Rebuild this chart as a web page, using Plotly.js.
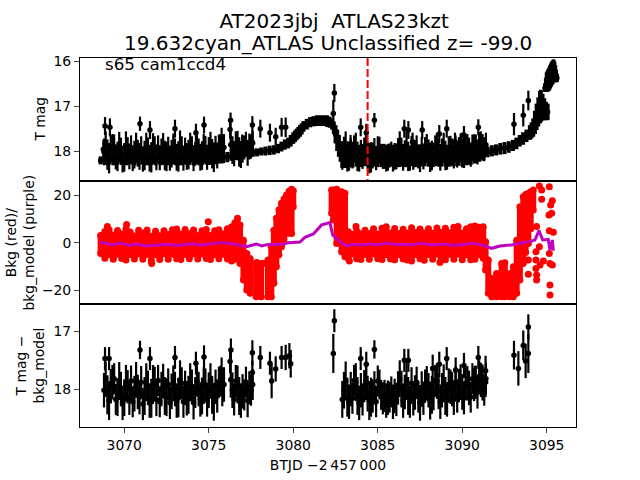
<!DOCTYPE html>
<html><head><meta charset="utf-8">
<script src="https://cdn.plot.ly/plotly-3.0.0.min.js"></script>
<style>html,body{margin:0;padding:0;background:#fff}</style></head>
<body><div id="chart" style="width:640px;height:480px"></div>
<script>
// dense spikes (shared times)
const spikeX=[3068.8,3069,3069.2,3069.4,3069.6,3069.8,3070,3070.2,3070.4,3070.6,3070.8,3071,3071.2,3071.4,3071.6,3071.8,3072,3072.2,3072.4,3072.6,3072.8,3073,3073.2,3073.4,3073.6,3073.8,3074,3074.2,3074.4,3074.6,3074.8,3075,3075.2,3075.4,3075.6,3075.8,3076.4,3076.6,3076.8,3077,3077.2,3077.4,3077.6,
3083,3083.2,3083.4,3083.6,3083.8,3084,3084.2,3084.4,3084.6,3084.8,3085,3085.2,3085.4,3085.6,3085.8,3086,3086.2,3086.4,3086.6,3086.8,3087,3087.2,3087.4,3087.6,3087.8,3088,3088.2,3088.4,3088.6,3088.8,3089,3089.2,3089.4,3089.6,3089.8,3090,3090.2,3090.4,3090.6,3090.8,3091,3091.2,3091.4];
const spikeX2=[3068.9,3069.1,3069.3,3069.5,3069.7,3069.9,3070.1,3070.3,3070.5,3070.7,3070.9,3071.1,3071.3,3071.5,3071.7,3071.9,3072.1,3072.3,3072.5,3072.7,3072.9,3073.1,3073.3,3073.5,3073.7,3073.9,3074.1,3074.3,3074.5,3074.7,3074.9,3075.1,3075.3,3075.5,3075.7,3075.9,3076.3,3076.5,3076.7,3076.9,3077.1,3077.3,3077.5,
3082.9,3083.1,3083.3,3083.5,3083.7,3083.9,3084.1,3084.3,3084.5,3084.7,3084.9,3085.1,3085.3,3085.5,3085.7,3085.9,3086.1,3086.3,3086.5,3086.7,3086.9,3087.1,3087.3,3087.5,3087.7,3087.9,3088.1,3088.3,3088.5,3088.7,3088.9,3089.1,3089.3,3089.5,3089.7,3089.9,3090.1,3090.3,3090.5,3090.7,3090.9,3091.1,3091.3];
const spikeErr=[.3,.34,.3,.27,.33,.3,.32,.29,.27,.31,.3,.28,.33,.3,.34,.29,.27,.3,.33,.28,.31,.3,.34,.28,.3,.33,.29,.27,.3,.32,.28,.31,.33,.29,.27,.3,.31,.28,.33,.3,.27,.29,.27,
.32,.34,.3,.27,.33,.3,.28,.31,.34,.29,.27,.26,.28,.3,.27,.3,.29,.32,.3,.33,.28,.3,.27,.31,.29,.3,.33,.27,.31,.3,.33,.28,.3,.27,.29,.31,.28,.3,.27,.29,.28,.3,.27];
const bottomY=[18.02,18.1,17.95,17.82,18.14,18.0,18.15,17.96,17.86,18.08,18.05,17.88,18.12,17.98,18.16,17.9,17.85,18.0,18.12,17.92,18.04,18.0,18.15,17.9,17.98,18.1,17.95,18.06,18.0,18.12,17.92,18.02,18.1,17.95,17.88,18.0,18.02,17.86,18.12,18.04,17.88,17.98,17.92,
18.02,18.14,18.0,17.85,18.12,18.02,17.95,18.08,18.14,17.98,17.86,18.1,18.12,18.15,18.05,18.12,17.98,18.0,18.05,18.12,17.9,18.06,18.14,18.0,17.95,18.02,18.1,17.85,18.04,18.02,18.12,17.92,18.0,17.88,17.94,18.05,17.9,17.98,17.82,17.88,17.78,17.9,17.82];
const bottomY2=[17.82,18.2,17.88,18.18,17.86,18.24,17.9,18.16,18.22,17.84,18.14,18.26,17.88,18.2,17.92,18.18,18.22,17.86,18.14,18.24,17.9,18.2,17.84,18.22,18.16,17.88,18.24,17.86,18.18,17.94,18.2,17.86,18.22,18.12,17.86,17.92,17.84,18.18,17.92,18.2,18.1,18.2,18.02,
18.18,17.86,18.22,18.16,17.88,18.24,18.18,17.88,18.2,18.12,18.22,17.92,18.16,18.2,18.14,18.22,18.18,17.82,18.2,17.86,18.22,18.16,17.88,18.24,18.16,17.9,18.2,18.1,17.86,18.22,17.9,18.2,17.96,18.18,18.12,17.88,18.16,17.9,18.14,17.92,18.06,17.84,18.02];
const topSpikeY=[18.02,18.08,17.95,17.9,18.12,18.0,18.14,17.98,17.92,18.08,18.05,17.95,18.1,18.0,18.14,17.96,17.92,18.02,18.1,17.96,18.06,18.02,18.12,17.95,18.0,18.08,17.96,18.06,18.02,18.1,17.94,18.0,18.06,17.95,17.9,17.98,17.98,17.84,18.02,17.96,17.84,17.9,17.82,
18.0,18.12,18.02,17.92,18.12,18.05,17.98,18.1,18.14,18.0,17.94,18.1,18.12,18.14,18.06,18.12,18.0,18.02,18.06,18.12,17.94,18.06,18.12,18.0,17.98,18.04,18.1,17.92,18.04,18.02,18.1,17.95,18.02,17.92,17.98,18.06,17.94,18.0,17.9,17.92,17.86,17.92,17.86];
const topSpikeY2=[17.86,18.16,17.92,18.14,17.9,18.18,17.88,18.12,18.18,17.9,18.12,18.18,17.92,18.16,17.94,18.14,18.16,17.9,18.12,18.16,17.92,18.14,17.88,18.16,18.12,17.92,18.16,17.9,18.14,17.94,18.14,17.88,18.14,18.1,17.9,17.92,17.86,18.06,17.88,18.08,17.92,18.04,17.9,
18.1,17.9,18.14,18.12,17.92,18.16,18.12,17.9,18.16,18.1,18.16,17.94,18.12,18.16,18.1,18.16,18.12,17.88,18.14,17.9,18.16,18.12,17.92,18.16,18.12,17.92,18.14,18.08,17.9,18.14,17.92,18.14,17.96,18.12,18.08,17.92,18.1,17.92,18.08,17.92,18.02,17.86,17.96];
// labelled markers: top panel
const topPtX=[3068.76,3068.86,3069.15,3070.93,3071.52,3073,3074.24,3074.72,3075.76,3076.29,3076.26,3076.98,3077.58,3077.58,3078.05,3078.62,3078.96,3079.31,3079.55,3082.37,3082.43,3083.39,3083.99,3084.32,3084.8,3086.57,3086.81,3087.06,3087.63,3088.64,3089.08,3089.57,3089.96,3090.1,3090.75,3090.95,3093.06,3093.61,3093.91];
const topPtY=[17.96,17.44,17.47,17.39,17.53,17.5,17.59,17.42,17.68,17.31,17.52,17.83,17.42,17.81,17.5,17.59,17.68,17.47,17.47,17.16,16.7,17.84,17.47,17.59,17.31,17.5,17.53,17.79,17.53,17.62,17.5,17.79,17.79,17.64,17.83,17.47,17.4,17.2,16.87];
const topPtErr=[.2,.2,.2,.16,.2,.2,.2,.19,.2,.17,.2,.2,.2,.2,.2,.2,.2,.21,.22,.3,.2,.2,.2,.2,.16,.2,.2,.2,.2,.2,.2,.2,.2,.2,.2,.18,.25,.25,.22];
// smooth band of the light curve
const bandX=[3068.6,3068.85,3069.1,3069.35,3069.6,3069.85,3070.1,3070.35,3070.6,3070.85,3071.1,3071.35,3071.6,3071.85,3072.1,3072.35,3072.6,3072.85,3073.1,3073.35,3073.6,3073.85,3074.1,3074.35,3074.6,3074.85,3075.1,3075.35,3075.6,3075.85,3076.1,3076.35,3076.6,3076.85,3077.1,3077.35,3077.6,3077.85,3078.1,3078.35,3078.6,3078.85,3079.1,3079.3,3079.5,3079.7,3079.85,3080,3080.1,3080.2,3080.3,3080.4,3080.5,3080.6,3080.8,3081,3081.2,3081.4,3081.6,3081.8,3082,3082.15,3082.3,3082.4,3082.5,3082.6,3082.7,3082.8,3082.9,3083,3083.1,3083.3,3083.5,3083.75,3084,3084.25,3084.5,3084.75,3085,3085.25,3085.5,3085.75,3086,3086.25,3086.5,3086.75,3087,3087.25,3087.5,3087.75,3088,3088.25,3088.5,3088.75,3089,3089.25,3089.5,3089.75,3090,3090.25,3090.5,3090.75,3091,3091.25,3091.5,3091.75,3092,3092.25,3092.5,3092.75,3093,3093.2,3093.4,3093.6,3093.8,3094,3094.1,3094.2,3094.3,3094.4,3094.5,3094.6,3094.65,3094.75,3094.85,3094.95,3095.05,3094.9,3094.95,3095,3095.05,3095.1,3095.15,3095.2,3095.25,3095.3,3095.35,3095.4,3095.45,3095.5,3095.55,3095.6];
const bandTop=[18.12,18.08,18.1,18.08,18.1,18.09,18.1,18.08,18.1,18.08,18.09,18.1,18.08,18.1,18.09,18.1,18.08,18.1,18.08,18.09,18.1,18.08,18.09,18.07,18.08,18.06,18.07,18.05,18.05,18.03,18.02,18.02,18.0,18,17.98,17.96,17.94,17.94,17.92,17.9,17.88,17.87,17.84,17.79,17.74,17.7,17.64,17.58,17.54,17.5,17.46,17.42,17.38,17.33,17.28,17.24,17.22,17.2,17.2,17.2,17.2,17.23,17.27,17.34,17.42,17.52,17.64,17.78,17.9,17.96,18,18.04,18.06,18.05,18.06,18.05,18.06,18.07,18.06,18.07,18.06,18.07,18.06,18.07,18.08,18.06,18.07,18.06,18.08,18.06,18.08,18.07,18.06,18.08,18.06,18.08,18.07,18.06,18.05,18.06,18.04,18.03,18,17.97,17.9,17.87,17.85,17.82,17.8,17.78,17.75,17.7,17.64,17.58,17.52,17.42,17.36,17.27,17.1,16.94,16.8,16.66,16.63,16.72,16.82,16.9,16.94,16.5,16.36,16.24,16.2,16.16,16.13,16.08,16.04,16,15.98,15.95,16,16.08,16.18,16.27];
const bandBot=[18.3,18.31,18.3,18.32,18.3,18.31,18.32,18.3,18.32,18.31,18.3,18.32,18.31,18.32,18.3,18.31,18.32,18.3,18.31,18.32,18.3,18.31,18.32,18.3,18.31,18.3,18.31,18.3,18.28,18.27,18.25,18.22,18.2,18.16,18.14,18.13,18.13,18.12,18.1,18.1,18.09,18.08,18.05,18.01,17.97,17.94,17.9,17.84,17.8,17.76,17.72,17.68,17.63,17.57,17.52,17.47,17.45,17.44,17.44,17.44,17.46,17.48,17.52,17.62,17.83,18,18.13,18.24,18.38,18.38,18.38,18.36,18.37,18.35,18.36,18.34,18.36,18.35,18.36,18.34,18.36,18.35,18.34,18.36,18.35,18.36,18.34,18.36,18.35,18.34,18.35,18.36,18.34,18.35,18.34,18.35,18.34,18.33,18.34,18.32,18.31,18.28,18.24,18.2,18.14,18.12,18.1,18.08,18.07,18.04,18.0,17.96,17.9,17.86,17.8,17.75,17.72,17.68,17.62,17.53,17.45,17.38,17.35,17.32,17.31,17.31,17.31,16.68,16.68,16.68,16.67,16.66,16.64,16.6,16.56,16.53,16.5,16.46,16.46,16.46,16.46,16.46];
// background flux (red): envelope of the dense cloud
const redX=[3068.6,3068.85,3069.1,3069.35,3069.6,3069.85,3070.1,3070.35,3070.6,3070.85,3071.1,3071.35,3071.6,3071.85,3072.1,3072.35,3072.6,3072.85,3073.1,3073.35,3073.6,3073.85,3074.1,3074.35,3074.6,3074.85,3075.1,3075.35,3075.6,3075.85,3076.1,3076.35,3076.55,3076.7,3076.85,3077.05,3077.25,3077.45,3077.8,3078.1,3078.5,3078.7,3078.85,3079,3079.15,3079.3,3079.45,3079.6,3079.75,3079.9,3080,
3082.27,3082.37,3082.57,3082.86,3083.06,3083.26,3083.5,3083.75,3084,3084.25,3084.5,3084.75,3085,3085.25,3085.5,3085.75,3086,3086.25,3086.5,3086.75,3087,3087.25,3087.5,3087.75,3088,3088.25,3088.5,3088.75,3089,3089.25,3089.5,3089.75,3090,3090.25,3090.5,3090.75,3091,3091.24,3091.38,3091.54,3091.74,3092.03,3092.33,3092.52,3092.82,3093.02,3093.22,3093.41,3093.61,3093.75,3093.91,3094.05,3094.2];
const redHigh=[3.2,4.8,5.6,3.4,5.3,3.8,6,4.6,2.9,5.4,4.2,5.5,2.8,4.9,3,5.2,3.6,5.6,5.9,3.8,5.7,3.9,5.5,3.1,5.2,5.7,3.2,5.1,5.6,3.9,6,6.8,8.5,10.4,7.6,1.2,-4.4,-7.2,-8.6,-8.6,-7.2,-1.6,5.4,10.4,14,16.7,18.5,20.2,21.8,22.6,22,
22.3,22.3,22.6,21.6,20.9,4.7,3.6,5.2,3.9,5.4,4,6,3.8,6.2,6.8,4.2,6.1,4,5.8,4.1,6.4,4.4,5.9,4.2,6,4.1,6.3,4.5,6.2,4.3,6.6,6.9,4.2,6,6.8,7.2,6.6,6.8,.5,-7.2,-14.9,-12.8,-8.6,-8.3,-12.8,-10,1.2,15.3,19.5,20.4,20.9,21.6,22.3];
const redLow=[-4.4,-6.4,-5,-6.8,-4.9,-6.5,-7.2,-5,-6.7,-4.6,-6.9,-4.8,-7.4,-5,-7,-4.6,-6.9,-4.7,-6.6,-7,-4.8,-6.6,-4.6,-6.7,-4.6,-6.5,-7,-5,-6.6,-4.7,-6.7,-7.6,-6.9,-6.5,-8.6,-15.6,-19.8,-21.2,-22.6,-22.6,-22.6,-22.6,-17,-10,-5,-1.6,1.5,4,4.2,4,15.3,
12.5,9.7,-.2,-3.7,-5.8,-6.6,-4.6,-6.6,-7,-4.8,-6.9,-4.6,-6.6,-7,-5,-6.7,-7.1,-5,-6.7,-7.2,-7.6,-5,-6.6,-7.3,-4.8,-6.9,-4.7,-6.8,-7.1,-4.9,-6.8,-4.7,-7.1,-5,-7.1,-6.8,-5,-6.4,-11.4,-21.2,-22.6,-22.6,-22.6,-22.6,-22.6,-22.6,-21.2,-15.6,-8.6,-4,-.2,6,13.9];
const redDotX=[3069,3070.14,3074.97,3071.62,3077.44,3078.23,3077.85,3083.71,3083.32,3088.68,3093.91,3094.4,3094.4,3094.36,3094.6,3094.8,3095.19,3095.33,3095.19,3095.19,3095.15,3095.33,3095.23,3095.29,3095.13,3095.15,3095.39,3094.56,3094.7,3094.7,3094.4,3094.56,3095.15,3093.91,3094.36,3094.36];
const redDotY=[6.9,7.8,8.9,-8.6,-6.5,-8.6,-8.2,6.9,-7.6,-8.2,-13.2,-13.5,-15.6,-7.2,-9.3,-7.6,-8.6,-9.3,-17.7,-21.9,23.7,17.8,16,12.5,11.8,5.2,4.5,24,22.3,18.4,6.9,-1.6,-4.4,-7.2,-3.7,-10.7];
// background model (purple)
const modelX=[3068.56,3068.96,3069.35,3069.6,3069.85,3070.24,3070.73,3071.32,3071.92,3072.51,3073.1,3073.6,3074.09,3074.48,3075.05,3075.66,3076.26,3076.85,3077.24,3077.83,3078.13,3078.43,3079.41,3079.71,3080.4,3080.69,3081.19,3081.68,3082.07,3082.17,3082.33,3082.76,3083.16,3083.55,3084.05,3084.54,3085.02,3085.52,3086.02,3086.51,3087,3087.5,3088.29,3088.9,3089.47,3090.05,3090.65,3091.2,3091.74,3092.23,3092.92,3093.41,3094,3094.3,3094.54,3094.76,3095.09,3095.19,3095.33,3095.39];
const modelY=[.3,-.14,-.84,-.3,0,-1,-.4,-1.26,-1,-.56,-1.1,-.6,-.28,-1,-.5,.14,-.14,-1.1,-1.54,-.42,-1.26,-.7,-.56,.14,.42,2.4,3.8,7.6,8.6,8.6,3.4,.56,-1.26,-.56,-.9,-.4,-.7,0,-.6,-.56,-.9,-.14,-.84,-.4,-1.1,-.6,-.14,-.9,-2.25,-1.26,-.84,-.14,.56,1.26,5.2,1.26,1.54,-2.95,1.26,-3.2];
// background-subtracted: labelled markers
const subPtX=[3068.86,3069.1,3070.93,3071.52,3073,3074.24,3074.72,3075.76,3076.31,3076.26,3077.58,3077.58,3078.05,3078.62,3078.72,3078.96,3079.31,3079.55,3079.77,3079.85,3082.37,3082.43,3083.99,3084.32,3084.8,3086.57,3086.81,3088.25,3088.64,3089.08,3089.61,3090.1,3090.75,3090.95,3091.19,3091.38,3091.38,3093.06,3093.32,3093.61,3093.75,3093.91,3093.91];
const subPtY=[17.47,17.47,17.32,17.47,17.45,17.55,17.44,17.67,17.32,17.52,17.37,17.71,17.45,17.55,17.86,17.65,17.45,17.45,17.42,17.56,17.38,16.81,17.47,17.57,17.31,17.5,17.5,17.64,17.57,17.47,17.67,17.59,17.86,17.45,17.83,17.68,17.88,17.41,17.64,17.24,17.51,16.92,17.38];
const subPtErr=[.2,.2,.16,.2,.2,.2,.2,.22,.2,.2,.22,.2,.2,.2,.3,.22,.2,.22,.22,.24,.34,.2,.2,.22,.16,.2,.2,.24,.22,.2,.22,.22,.26,.2,.26,.26,.26,.25,.3,.26,.3,.22,.34];
const tessTime=[3084.4,3084.4];
const tessMag=[15.92,18.68];
const titleLines=["AT2023jbj  ATLAS23kzt","19.632cyan_ATLAS Unclassified z= -99.0"];
const sectorText="s65 cam1ccd4";
const xTicks=[3070,3075,3080,3085,3090,3095];

function eb(plus,minus,th,col){return {type:'data',symmetric:false,array:plus,arrayminus:minus,thickness:th,width:0,color:col||'#000'};}
function sym(a,th){return {type:'data',array:a,thickness:th,width:0,color:'#000'};}
const mk={color:'#000',size:5.5};
const bandMid=bandTop.map((t,i)=>(t+bandBot[i])/2);
const traces=[
 {x:spikeX,y:topSpikeY,xaxis:'x',yaxis:'y',mode:'markers',marker:mk,error_y:sym(spikeErr,2.2)},
 {x:spikeX2,y:topSpikeY2,xaxis:'x',yaxis:'y',mode:'markers',marker:mk,error_y:sym(spikeErr,2.2)},
 {x:bandX,y:bandMid,xaxis:'x',yaxis:'y',mode:'markers',marker:mk,error_y:eb(bandBot.map((b,i)=>b-bandMid[i]),bandMid.map((m,i)=>m-bandTop[i]),4)},
 {x:topPtX,y:topPtY,xaxis:'x',yaxis:'y',mode:'markers',marker:mk,error_y:sym(topPtErr,2.2)},
 {x:tessTime,y:tessMag,xaxis:'x',yaxis:'y',mode:'lines',line:{color:'#ff0000',width:2,dash:'8px,3px'}},
 {x:redX,y:redHigh,xaxis:'x2',yaxis:'y2',mode:'markers',marker:{color:'#ff0000',size:7},error_y:eb(redX.map(()=>0),redHigh.map((h,i)=>h-redLow[i]),6,'#ff0000')},
 {x:redX,y:redLow,xaxis:'x2',yaxis:'y2',mode:'markers',marker:{color:'#ff0000',size:7}},
 {x:redDotX,y:redDotY,xaxis:'x2',yaxis:'y2',mode:'markers',marker:{color:'#ff0000',size:7}},
 {x:modelX,y:modelY,xaxis:'x2',yaxis:'y2',mode:'lines',line:{color:'#bf00bf',width:3}},
 {x:spikeX,y:bottomY,xaxis:'x3',yaxis:'y3',mode:'markers',marker:mk,error_y:sym(spikeErr,2.2)},
 {x:spikeX2,y:bottomY2,xaxis:'x3',yaxis:'y3',mode:'markers',marker:mk,error_y:sym(spikeErr,2.2)},
 {x:subPtX,y:subPtY,xaxis:'x3',yaxis:'y3',mode:'markers',marker:mk,error_y:sym(subPtErr,2.2)}
];
const xr=[3067.38,3096.73];
const base={showline:true,linecolor:'#000',linewidth:1,mirror:true,showgrid:false,zeroline:false};
const xa=(anchor,show)=>Object.assign({},base,{range:xr,anchor:anchor,showticklabels:show,ticks:show?'outside':'',ticklen:5,tickwidth:1,tickvals:xTicks,tickformat:'d'});
const ya=(dom,r,vals)=>Object.assign({},base,{domain:dom,range:r,ticks:'outside',ticklen:5,tickwidth:1,tickvals:vals});
const yTitle=(text,px,y)=>({text:text,xref:'paper',yref:'paper',x:(px-80)/496,y:y,xanchor:'center',yanchor:'middle',textangle:-90,showarrow:false,font:{size:13.9,color:'#000'}});
const layout={
 width:640,height:480,showlegend:false,paper_bgcolor:'#fff',plot_bgcolor:'#fff',
 margin:{l:80,r:64,t:57.6,b:53,pad:0},
 font:{family:'DejaVu Sans',size:13.9,color:'#000'},
 title:{text:titleLines[0],font:{size:20,color:'#000'},x:328/640,xanchor:'center',xref:'paper',y:1-21/480,yanchor:'middle',yref:'container'},
 xaxis:xa('y',false),xaxis2:xa('y2',false),
 xaxis3:Object.assign(xa('y3',true),{title:{text:'BTJD \u22122\u2009457\u2009000',standoff:8,font:{size:13.9,color:'#000'}}}),
 yaxis:ya([0.6667,1],[18.67,15.92],[16,17,18]),
 yaxis2:ya([0.3333,0.6667],[-25.7,26.1],[-20,0,20]),
 yaxis3:ya([0,0.3333],[18.66,16.52],[17,18]),
 annotations:[
  {text:titleLines[1],xref:'paper',yref:'paper',x:0.5,y:(427-43)/369.4,xanchor:'center',yanchor:'middle',showarrow:false,font:{size:20,color:'#000'}},
  {text:sectorText,xref:'paper',yref:'paper',x:0.046,y:0.983,xanchor:'left',yanchor:'middle',showarrow:false,font:{size:16.7,color:'#000'}},
  yTitle('T mag',40,0.833),
  yTitle('Bkg (red)/<br>bkg_model (purple)',19,0.5),
  yTitle('T mag \u2212<br>bkg_model',30,0.1667)
 ]
};
Plotly.newPlot('chart',traces,layout,{displayModeBar:false,responsive:false});
</script></body></html>
